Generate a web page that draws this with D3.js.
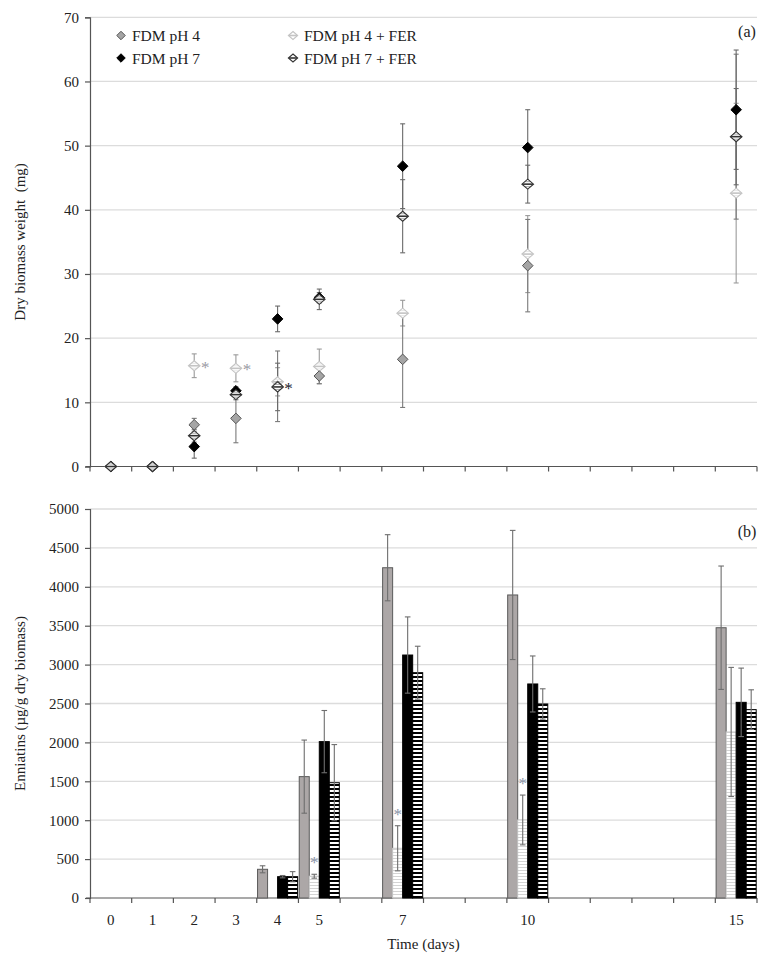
<!DOCTYPE html>
<html>
<head>
<meta charset="utf-8">
<script src="https://cdn.jsdelivr.net/npm/d3@7"></script>
<style>
  html, body { margin: 0; padding: 0; background: #fff; }
  svg { display: block; }
  text { font-family: "Liberation Serif", "Times New Roman", serif; }
</style>
</head>
<body>
<svg id="chart" width="776" height="957"></svg>
<script>
// ---------- DATA ----------
const allDays = d3.range(0, 16);                  // category slots 0..15
const labelDays = [0, 1, 2, 3, 4, 5, 7, 10, 15];  // labelled days

// Panel (a): dry biomass (mg)
const bioDays = [0, 1, 2, 3, 4, 5, 7, 10, 15];
const bioPH4     = [0, 0, 6.5, 7.5, 12.5, 14.1, 16.7, 31.3, 51.4];
const bioPH4Err  = [0, 0, 1.0, 3.8, 5.5, 1.2, 7.5, 7.2, 12.85];
const bioPH7     = [0, 0, 3.1, 11.8, 23.0, 26.3, 46.8, 49.7, 55.6];
const bioPH7Err  = [0, 0, 1.8, 0.6, 2.0, 0.8, 6.6, 5.9, 9.3];
const bioFER4    = [0, 0, 15.7, 15.3, 13.2, 15.6, 23.9, 33.1, 42.6];
const bioFER4Err = [0, 0, 1.85, 2.1, 2.2, 2.7, 2.0, 6.0, 14.0];
const bioFER7    = [0, 0, 4.8, 11.2, 12.4, 26.05, 39.0, 44.0, 51.4];
const bioFER7Err = [0, 0, 1.0, 0.8, 3.7, 1.6, 5.7, 2.95, 7.5];
const bioTicks = [0, 10, 20, 30, 40, 50, 60, 70];

// Panel (b): enniatins (µg/g dry biomass)
const ennDays = [4, 5, 7, 10, 15];
const ennPH4     = [369, 1560, 4245, 3895, 3474];
const ennPH4Err  = [45, 470, 425, 830, 793];
const ennFER4    = [0, 280, 639, 1003, 2134];
const ennFER4Err = [0, 25, 290, 320, 830];
const ennPH7     = [274, 2010, 3123, 2751, 2515];
const ennPH7Err  = [15, 400, 490, 360, 440];
const ennFER7    = [274, 1482, 2896, 2494, 2421];
const ennFER7Err = [65, 490, 340, 195, 255];
const ennTicks = d3.range(0, 5001, 500);

// significance marks (series key, day)
const bioStars = [["FER4", 2], ["FER4", 3], ["FER7", 4]];
const ennStars = [["FER4", 5], ["FER4", 7], ["FER4", 10]];

const seriesNames = {
  PH4: "FDM pH 4", PH7: "FDM pH 7",
  FER4: "FDM pH 4 + FER", FER7: "FDM pH 7 + FER"
};

// ---------- SETUP ----------
const svg = d3.select("#chart");
const defs = svg.append("defs");

const pLight = defs.append("pattern").attr("id", "hLight")
  .attr("patternUnits", "userSpaceOnUse").attr("width", 6).attr("height", 3);
pLight.append("rect").attr("width", 6).attr("height", 3).attr("fill", "#fff");
pLight.append("rect").attr("width", 6).attr("height", 1).attr("fill", "#d4d4d4");

const pDark = defs.append("pattern").attr("id", "hDark")
  .attr("patternUnits", "userSpaceOnUse").attr("width", 6).attr("height", 4);
pDark.append("rect").attr("width", 6).attr("height", 4).attr("fill", "#fff");
pDark.append("rect").attr("width", 6).attr("height", 2).attr("fill", "#000");

const x = d3.scaleBand().domain(allDays).range([90, 757]).padding(0);
const yA = d3.scaleLinear().domain([0, 70]).range([466.5, 17.3]);
const yB = d3.scaleLinear().domain([0, 5000]).range([898, 509]);

const axisColor = "#555";
const gridColor = "#dcdcdc";
const textColor = "#222";

function drawFrame(y, ticks, showLabels) {
  const g = svg.append("g");
  g.selectAll("line.grid").data(ticks.filter(t => t > 0)).enter().append("line")
    .attr("x1", 90).attr("x2", 757)
    .attr("y1", d => y(d)).attr("y2", d => y(d))
    .attr("stroke", gridColor).attr("stroke-width", 1.3);
  const ya = g.append("g").attr("transform", "translate(90,0)")
    .call(d3.axisLeft(y).tickValues(ticks).tickSize(5).tickPadding(6).tickFormat(d3.format("d")));
  ya.select(".domain").attr("stroke", axisColor).attr("stroke-width", 1.2);
  ya.selectAll(".tick line").attr("stroke", axisColor).attr("stroke-width", 1.2);
  ya.selectAll(".tick text").style("font-family", '"Liberation Serif", serif')
    .style("font-size", "15px").style("fill", textColor);
  const y0 = y(0);
  g.append("line").attr("x1", 86).attr("x2", 757).attr("y1", y0).attr("y2", y0)
    .attr("stroke", axisColor).attr("stroke-width", 1.2);
  const bounds = allDays.map(d => x(d)).concat([x(15) + x.bandwidth()]);
  g.selectAll("line.xt").data(bounds).enter().append("line")
    .attr("x1", d => d).attr("x2", d => d)
    .attr("y1", y0).attr("y2", y0 + 5)
    .attr("stroke", axisColor).attr("stroke-width", 1.2);
  if (showLabels) {
    g.selectAll("text.xl").data(labelDays).enter().append("text")
      .attr("x", d => x(d) + x.bandwidth() / 2).attr("y", y0 + 27)
      .attr("text-anchor", "middle").style("font-size", "15px").style("fill", textColor)
      .text(d => d);
  }
  return g;
}

// ---------- PANEL (a) ----------
drawFrame(yA, bioTicks, false);

const bio = {
  FER4: { v: bioFER4, e: bioFER4Err },
  PH4:  { v: bioPH4,  e: bioPH4Err },
  PH7:  { v: bioPH7,  e: bioPH7Err },
  FER7: { v: bioFER7, e: bioFER7Err }
};
const drawOrder = ["FER4", "PH4", "PH7", "FER7"];
const errCol = { FER4: "#9a9a9a", PH4: "#7a7a7a", PH7: "#6a6a6a", FER7: "#6a6a6a" };

function cx(day) { return x(day) + x.bandwidth() / 2; }

function errBar(g, xc, y1, y2, col, cap) {
  g.append("line").attr("x1", xc).attr("x2", xc).attr("y1", y1).attr("y2", y2)
    .attr("stroke", col).attr("stroke-width", 1.1);
  [y1, y2].forEach(yy => g.append("line").attr("x1", xc - cap).attr("x2", xc + cap)
    .attr("y1", yy).attr("y2", yy).attr("stroke", col).attr("stroke-width", 1.1));
}

const gErrA = svg.append("g");
drawOrder.forEach(k => {
  bioDays.forEach((d, i) => {
    const v = bio[k].v[i], e = bio[k].e[i];
    if (e > 0) errBar(gErrA, cx(d), yA(v + e), yA(Math.max(0, v - e)), errCol[k], 2.5);
  });
});

function marker(g, k, xc, yc, s, simple) {
  s = s || 1;
  const r = 5.3 * s;
  const dpath = `M${xc},${yc - r}L${xc + r},${yc}L${xc},${yc + r}L${xc - r},${yc}Z`;
  if (k === "PH4") {
    g.append("path").attr("d", dpath).attr("fill", "#a5a5a5").attr("stroke", "#555").attr("stroke-width", 1);
  } else if (k === "PH7") {
    g.append("path").attr("d", dpath).attr("fill", "#000").attr("stroke", "#000").attr("stroke-width", 1);
  } else {
    const col = k === "FER4" ? "#c4c4c4" : "#333";
    const rx = 5.8 * s, ry = 5.0 * s;
    const p = `M${xc},${yc - ry}L${xc + rx},${yc}L${xc},${yc + ry}L${xc - rx},${yc}Z`;
    g.append("path").attr("d", p).attr("fill", "#fff").attr("stroke", col).attr("stroke-width", 1.1);
    g.append("line").attr("x1", xc - rx + 0.5).attr("x2", xc + rx - 0.5)
      .attr("y1", yc).attr("y2", yc).attr("stroke", col).attr("stroke-width", 1.6);
    if (!simple) {
      [-2.5 * s, 2.5 * s].forEach(dy => {
        const hw = rx * (1 - Math.abs(dy) / ry) - 0.3;
        g.append("line").attr("x1", xc - hw).attr("x2", xc + hw)
          .attr("y1", yc + dy).attr("y2", yc + dy).attr("stroke", col)
          .attr("stroke-width", 0.6).attr("stroke-opacity", 0.7);
      });
    }
  }
}

const gMarkA = svg.append("g");
drawOrder.forEach(k => {
  bioDays.forEach((d, i) => marker(gMarkA, k, cx(d), yA(bio[k].v[i])));
});

bioStars.forEach(([k, d]) => {
  const i = bioDays.indexOf(d);
  svg.append("text").attr("x", cx(d) + 11).attr("y", yA(bio[k].v[i]) + 7)
    .attr("text-anchor", "middle").style("font-size", "17px")
    .style("fill", k === "FER7" ? "#1a1a2a" : "#9a9aa4").text("*");
});

// legend
const legend = [
  ["PH4", 121, 35.5], ["PH7", 121, 58],
  ["FER4", 293, 35.5], ["FER7", 293, 58]
];
legend.forEach(([k, lx, ly]) => {
  marker(svg, k, lx, ly, 0.8, true);
  svg.append("text").attr("x", lx + 11).attr("y", ly + 5.5)
    .style("font-size", "15.5px").style("fill", textColor).text(seriesNames[k]);
});

svg.append("text").attr("x", 747).attr("y", 37).attr("text-anchor", "middle")
  .style("font-size", "16px").style("fill", textColor).text("(a)");

svg.append("text")
  .attr("transform", `translate(25,${(yA(0) + yA(70)) / 2}) rotate(-90)`)
  .attr("text-anchor", "middle").style("font-size", "15px").style("white-space", "pre")
  .style("fill", textColor)
  .text("Dry biomass weight  (mg)");

// ---------- PANEL (b) ----------
drawFrame(yB, ennTicks, true);

const enn = {
  PH4:  { v: ennPH4,  e: ennPH4Err,  fill: "#aca7a7", stroke: "#5a5a5a" },
  FER4: { v: ennFER4, e: ennFER4Err, fill: "url(#hLight)", stroke: "#c8c8c8" },
  PH7:  { v: ennPH7,  e: ennPH7Err,  fill: "#000", stroke: "#000" },
  FER7: { v: ennFER7, e: ennFER7Err, fill: "url(#hDark)", stroke: "#000" }
};
const barOrder = ["PH4", "FER4", "PH7", "FER7"];
const xInner = d3.scaleBand().domain(barOrder).range([0, x.bandwidth()])
  .paddingInner(0).paddingOuter(0.08);

const gBars = svg.append("g");
barOrder.forEach(k => {
  ennDays.forEach((d, i) => {
    const v = enn[k].v[i];
    if (v <= 0) return;
    gBars.append("rect")
      .attr("x", x(d) + xInner(k)).attr("width", xInner.bandwidth())
      .attr("y", yB(v)).attr("height", yB(0) - yB(v))
      .attr("fill", enn[k].fill).attr("stroke", enn[k].stroke).attr("stroke-width", 1);
  });
});
const gErrB = svg.append("g");
barOrder.forEach(k => {
  ennDays.forEach((d, i) => {
    const v = enn[k].v[i], e = enn[k].e[i];
    if (v <= 0 || e <= 0) return;
    const xc = x(d) + xInner(k) + xInner.bandwidth() / 2;
    errBar(gErrB, xc, yB(v + e), yB(v - e), "#6e6e6e", 2.8);
  });
});
ennStars.forEach(([k, d]) => {
  const i = ennDays.indexOf(d);
  const xc = x(d) + xInner(k) + xInner.bandwidth() / 2;
  svg.append("text").attr("x", xc).attr("y", yB(enn[k].v[i] + enn[k].e[i]) - 6)
    .attr("text-anchor", "middle").style("font-size", "17px")
    .style("fill", "#8a94a8").text("*");
});

svg.append("text").attr("x", 747).attr("y", 537).attr("text-anchor", "middle")
  .style("font-size", "16px").style("fill", textColor).text("(b)");

svg.append("text")
  .attr("transform", `translate(25,${(yB(0) + yB(5000)) / 2}) rotate(-90)`)
  .attr("text-anchor", "middle").style("font-size", "15px").style("fill", textColor)
  .text("Enniatins (µg/g dry biomass)");

svg.append("text").attr("x", (90 + 757) / 2).attr("y", 949)
  .attr("text-anchor", "middle").style("font-size", "15px").style("fill", textColor)
  .text("Time (days)");
</script>
</body>
</html>
